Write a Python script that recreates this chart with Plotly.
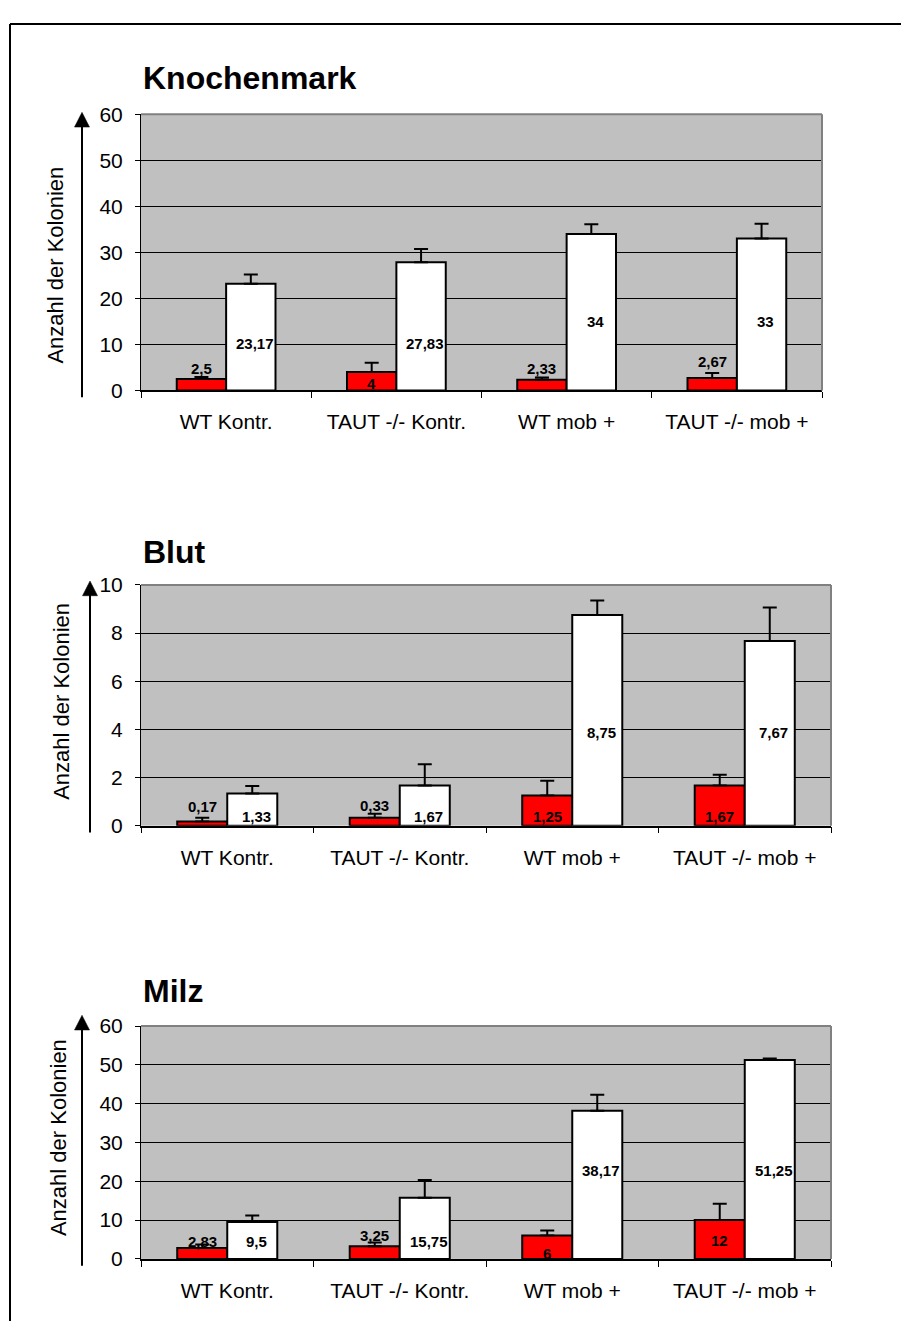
import plotly.graph_objects as go

# page (reference) size and the figure size that fits inside the default 8px body margin
PAGE_W, PAGE_H = 909, 1329
OFF = 8
FW, FH = PAGE_W - 2 * OFF, PAGE_H - 2 * OFF

categories = ["WT Kontr.", "TAUT -/- Kontr.", "WT mob +", "TAUT -/- mob +"]

# Knochenmark
km_red = [2.5, 4, 2.33, 2.67]
km_red_err = [0.4, 2.0, 0.5, 1.1]
km_white = [23.17, 27.83, 34, 33]
km_white_err = [2.0, 2.9, 2.1, 3.2]
km_red_text = ["2,5", "4", "2,33", "2,67"]
km_white_text = ["23,17", "27,83", "34", "33"]

# Blut
bl_red = [0.17, 0.33, 1.25, 1.67]
bl_red_err = [0.16, 0.16, 0.62, 0.44]
bl_white = [1.33, 1.67, 8.75, 7.67]
bl_white_err = [0.32, 0.88, 0.6, 1.39]
bl_red_text = ["0,17", "0,33", "1,25", "1,67"]
bl_white_text = ["1,33", "1,67", "8,75", "7,67"]

# Milz
mi_red = [2.83, 3.25, 6, 10]
mi_red_err = [0.9, 1.0, 1.3, 4.2]
mi_white = [9.5, 15.75, 38.17, 51.25]
mi_white_err = [1.7, 4.6, 4.1, 0.4]
mi_red_text = ["2,83", "3,25", "6", "12"]
mi_white_text = ["9,5", "15,75", "38,17", "51,25"]

# label anchor heights (layout, in axis units)
km_red_lab_y = [4.7, 1.5, 4.8, 6.2]
km_white_lab_y = [10.1, 10.1, 15, 15]
bl_red_lab_y = [0.78, 0.82, 0.4, 0.4]
bl_white_lab_y = [0.38, 0.37, 3.87, 3.87]
mi_red_lab_y = [4.6, 6.1, 1.4, 4.8]
mi_white_lab_y = [4.6, 4.6, 22.7, 22.7]

FONT = "Arial, 'Liberation Sans', sans-serif"
BARGAP = 0.42


def fx(x):
    return (x - OFF) / FW


def fy(y):
    return 1 - (y - OFF) / FH


panels = [
    dict(title="Knochenmark", red=km_red, red_err=km_red_err, white=km_white, white_err=km_white_err,
         red_text=km_red_text, white_text=km_white_text, red_ly=km_red_lab_y, white_ly=km_white_lab_y,
         x0=141, x1=822, ytop=104, ybot=385, ymax=60, dtick=10, title_base=78,
         arrow_x=82, arrow_tip=102, ylab_x=56, ylab_y=258),
    dict(title="Blut", red=bl_red, red_err=bl_red_err, white=bl_white, white_err=bl_white_err,
         red_text=bl_red_text, white_text=bl_white_text, red_ly=bl_red_lab_y, white_ly=bl_white_lab_y,
         x0=141, x1=831, ytop=583, ybot=828, ymax=10, dtick=2, title_base=560,
         arrow_x=90, arrow_tip=579, ylab_x=62, ylab_y=702),
    dict(title="Milz", red=mi_red, red_err=mi_red_err, white=mi_white, white_err=mi_white_err,
         red_text=mi_red_text, white_text=mi_white_text, red_ly=mi_red_lab_y, white_ly=mi_white_lab_y,
         x0=141, x1=831, ytop=1032, ybot=1269, ymax=60, dtick=10, title_base=1007,
         arrow_x=82, arrow_tip=1021, ylab_x=58, ylab_y=1146),
]

fig = go.Figure()
shapes = []
annotations = []
layout = {}

for i, p in enumerate(panels):
    n = "" if i == 0 else str(i + 1)
    xa, ya = "x" + n, "y" + n
    fig.add_trace(go.Bar(
        x=categories, y=p["red"], xaxis=xa, yaxis=ya,
        marker=dict(color="#FF0000", line=dict(color="black", width=2)),
        error_y=dict(type="data", array=p["red_err"], symmetric=False, arrayminus=[0] * 4,
                     color="black", thickness=2, width=7),
        showlegend=False, offsetgroup="a",
    ))
    fig.add_trace(go.Bar(
        x=categories, y=p["white"], xaxis=xa, yaxis=ya,
        marker=dict(color="#FFFFFF", line=dict(color="black", width=2)),
        error_y=dict(type="data", array=p["white_err"], symmetric=False, arrayminus=[0] * 4,
                     color="black", thickness=2, width=7),
        showlegend=False, offsetgroup="b",
    ))
    layout["xaxis" + n] = dict(
        domain=[fx(p["x0"]), fx(p["x1"])], anchor=ya, type="category",
        showline=True, linecolor="black", linewidth=1.5,
        ticks="outside", tickson="boundaries", ticklen=6, tickcolor="black", tickwidth=1,
        tickfont=dict(family=FONT, size=21, color="black"), ticklabelstandoff=12,
        showgrid=False, fixedrange=True,
    )
    layout["yaxis" + n] = dict(
        domain=[fy(p["ybot"]), fy(p["ytop"])], anchor=xa, range=[0, p["ymax"]], dtick=p["dtick"],
        showline=True, linecolor="black", linewidth=1,
        ticks="outside", ticklen=5, tickcolor="black", tickwidth=1,
        tickfont=dict(family=FONT, size=21, color="black"), ticklabelstandoff=8,
        showgrid=True, gridcolor="black", gridwidth=1, zeroline=False, fixedrange=True,
    )
    # plot area top/right gray border
    shapes.append(dict(type="line", xref=xa + " domain", yref=ya + " domain", x0=0, x1=1, y0=1, y1=1,
                       line=dict(color="#808080", width=2), layer="above"))
    shapes.append(dict(type="line", xref=xa + " domain", yref=ya + " domain", x0=1, x1=1, y0=0, y1=1,
                       line=dict(color="#808080", width=2), layer="above"))
    # arrow
    ax = p["arrow_x"]
    tip = p["arrow_tip"]
    shapes.append(dict(type="line", xref="paper", yref="paper", x0=fx(ax), x1=fx(ax),
                       y0=fy(p["ybot"] + 7), y1=fy(tip + 14), line=dict(color="black", width=2)))
    shapes.append(dict(type="path", xref="paper", yref="paper",
                       path=f"M {fx(ax - 7.5)} {fy(tip + 15)} L {fx(ax + 7.5)} {fy(tip + 15)} L {fx(ax)} {fy(tip)} Z",
                       fillcolor="black", line=dict(color="black", width=0.5)))
    # title
    annotations.append(dict(text=f"<b>{p['title']}</b>", xref="paper", yref="paper",
                            x=fx(141), y=fy(p["title_base"] - 11), xanchor="left", yanchor="middle",
                            showarrow=False, font=dict(family=FONT, size=32, color="black")))
    # y-axis title
    annotations.append(dict(text="Anzahl der Kolonien", xref="paper", yref="paper",
                            x=fx(p["ylab_x"]), y=fy(p["ylab_y"]), xanchor="center", yanchor="middle",
                            textangle=-90, showarrow=False, font=dict(family=FONT, size=22, color="black")))
    # data labels
    cat_w = (p["x1"] - p["x0"]) / len(categories)
    off = cat_w * (1 - BARGAP) / 4
    for j, c in enumerate(categories):
        annotations.append(dict(text=f"<b>{p['red_text'][j]}</b>", xref=xa, yref=ya, x=c, y=p["red_ly"][j],
                                xshift=-off, xanchor="center", yanchor="middle", showarrow=False,
                                font=dict(family=FONT, size=15, color="black")))
        annotations.append(dict(text=f"<b>{p['white_text'][j]}</b>", xref=xa, yref=ya, x=c, y=p["white_ly"][j],
                                xshift=off + 4, xanchor="center", yanchor="middle", showarrow=False,
                                font=dict(family=FONT, size=15, color="black")))

# page border (top and left)
shapes.append(dict(type="line", xref="paper", yref="paper", x0=fx(10), x1=1.02, y0=fy(12), y1=fy(12),
                   line=dict(color="black", width=2)))
shapes.append(dict(type="line", xref="paper", yref="paper", x0=fx(10), x1=fx(10), y0=fy(12), y1=-0.02,
                   line=dict(color="black", width=2)))

fig.update_layout(
    width=FW, height=FH, autosize=False,
    margin=dict(l=0, r=0, t=0, b=0, pad=0),
    paper_bgcolor="white", plot_bgcolor="#C0C0C0",
    barmode="group", bargap=BARGAP, bargroupgap=0,
    shapes=shapes, annotations=annotations, showlegend=False,
    **layout,
)

fig.write_html("out.html", config=dict(displayModeBar=False))
